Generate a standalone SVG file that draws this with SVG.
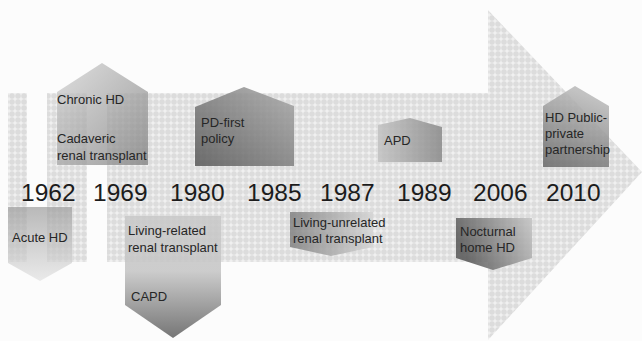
<svg xmlns="http://www.w3.org/2000/svg" width="642" height="341" viewBox="0 0 642 341">
<style>
.yr{font-family:"Liberation Sans",Arial,sans-serif;font-size:24.5px;fill:#1c1c1c}
.lb{font-family:"Liberation Sans",Arial,sans-serif;font-size:13px;fill:#262626}
.box{stroke:none}
</style>
<defs>
<pattern id="dots" width="6" height="6" patternUnits="userSpaceOnUse">
<rect width="6" height="6" fill="#dcdcdc"/>
<rect x="2.5" y="0.5" width="1" height="5" fill="#f7f7f7"/>
<rect x="0.5" y="2.5" width="5" height="1" fill="#f7f7f7"/>
</pattern>
<linearGradient id="g1" x1="0" y1="0" x2="1" y2="1"><stop offset="0" stop-color="#d4d4d4"/><stop offset="1" stop-color="#7c7c7c"/></linearGradient>
<linearGradient id="g2" x1="0" y1="1" x2="1" y2="0"><stop offset="0" stop-color="#565656"/><stop offset="1" stop-color="#a8a8a8"/></linearGradient>
<linearGradient id="g3" x1="0" y1="0" x2="1" y2="0"><stop offset="0" stop-color="#c2c2c2"/><stop offset="1" stop-color="#888"/></linearGradient>
<linearGradient id="g4" x1="0.3" y1="0" x2="0" y2="1"><stop offset="0" stop-color="#b8b8b8"/><stop offset="1" stop-color="#666"/></linearGradient>
<linearGradient id="g5" x1="0" y1="0" x2="0" y2="1"><stop offset="0" stop-color="#9c9c9c"/><stop offset="1" stop-color="#e2e2e2"/></linearGradient>
<linearGradient id="g6" x1="0" y1="0" x2="0" y2="1"><stop offset="0" stop-color="#c8c8c8"/><stop offset="0.45" stop-color="#c4c4c4"/><stop offset="1" stop-color="#5e5e5e"/></linearGradient>
<linearGradient id="g7" x1="0" y1="0" x2="1" y2="0"><stop offset="0" stop-color="#7a7a7a"/><stop offset="1" stop-color="#d4d4d4"/></linearGradient>
<linearGradient id="g8" x1="0" y1="0.3" x2="1" y2="0"><stop offset="0" stop-color="#555"/><stop offset="1" stop-color="#c4c4c4"/></linearGradient>
</defs>
<rect width="642" height="341" fill="#fcfcfc"/>
<g id="timeline-arrow">
<polygon points="8,93 488,93 488,10 642,172 488,340 488,262 8,262" fill="url(#dots)"/>
<rect x="27" y="93" width="20" height="169" fill="#fcfcfc"/>
<rect x="87" y="93" width="20" height="169" fill="#fcfcfc"/>
</g>
<g id="years">
<text class="yr" x="21" y="201">1962</text>
<text class="yr" x="93" y="201">1969</text>
<text class="yr" x="170" y="201">1980</text>
<text class="yr" x="247" y="201">1985</text>
<text class="yr" x="320" y="201">1987</text>
<text class="yr" x="397" y="201">1989</text>
<text class="yr" x="473" y="201">2006</text>
<text class="yr" x="546" y="201">2010</text>
</g>
<g id="node-chronic-hd">
<polygon class="box" points="57,92 102,63 148,92 148,165 57,165" fill="url(#g1)" opacity="0.75"/>
<text class="lb" x="57" y="104">Chronic HD</text>
<text class="lb" x="57" y="143">Cadaveric</text>
<text class="lb" x="57" y="160">renal transplant</text>
</g>
<g id="node-pd-first">
<polygon class="box" points="195,107 244,87 294,106 294,166 195,166" fill="url(#g2)" opacity="0.85"/>
<text class="lb" x="201" y="127">PD-first</text>
<text class="lb" x="201" y="143">policy</text>
</g>
<g id="node-apd">
<polygon class="box" points="378,125 410,118 442,127 442,162 378,162" fill="url(#g3)" opacity="0.85"/>
<text class="lb" x="384" y="145">APD</text>
</g>
<g id="node-hd-ppp">
<polygon class="box" points="543,106 575,86 609,106 609,167 543,167" fill="url(#g4)" opacity="0.85"/>
<text class="lb" x="545" y="122">HD Public-</text>
<text class="lb" x="545" y="138">private</text>
<text class="lb" x="545" y="154">partnership</text>
</g>
<g id="node-acute-hd">
<polygon class="box" points="8,207 72,207 72,263 40,281 8,263" fill="url(#g5)" opacity="0.7"/>
<text class="lb" x="12" y="242">Acute HD</text>
</g>
<g id="node-living-related">
<polygon class="box" points="125,216 221,216 221,305 173,338 125,305" fill="url(#g6)" opacity="0.85"/>
<text class="lb" x="128" y="235">Living-related</text>
<text class="lb" x="128" y="252">renal transplant</text>
<text class="lb" x="131" y="301">CAPD</text>
</g>
<g id="node-living-unrelated">
<polygon class="box" points="290,212 373,212 373,247 331,256 290,247" fill="url(#g7)" opacity="0.8"/>
<text class="lb" x="293" y="227">Living-unrelated</text>
<text class="lb" x="293" y="243">renal transplant</text>
</g>
<g id="node-nocturnal">
<polygon class="box" points="456,218 532,218 532,258 493,270 456,258" fill="url(#g8)" opacity="0.85"/>
<text class="lb" x="460" y="236">Nocturnal</text>
<text class="lb" x="460" y="252">home HD</text>
</g>
<g id="connectors"></g>
</svg>
